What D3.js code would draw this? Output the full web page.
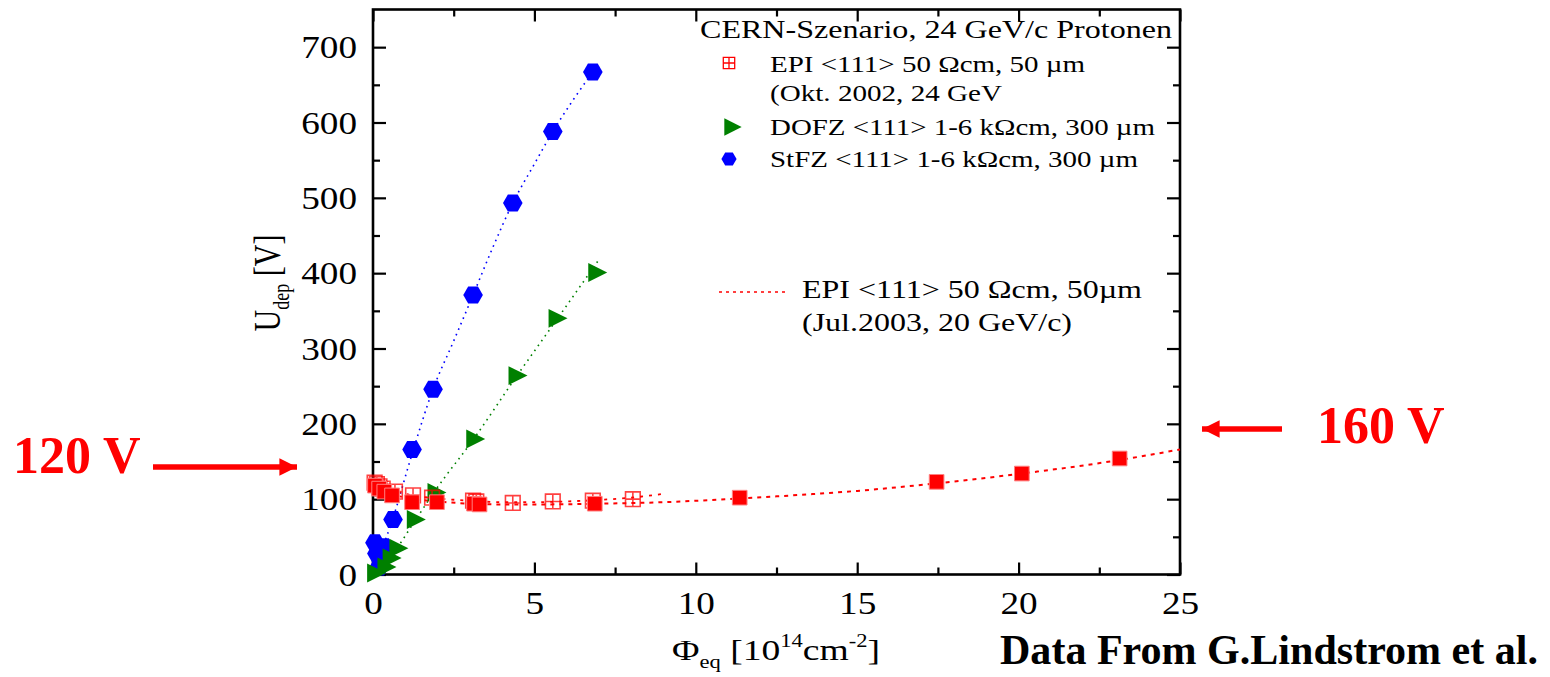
<!DOCTYPE html>
<html>
<head>
<meta charset="utf-8">
<script src="https://cdn.jsdelivr.net/npm/d3@7"></script>
<style>
  html, body { margin: 0; padding: 0; background: #fff; }
  svg { display: block; }
  text { font-family: "Liberation Serif", "Times New Roman", serif; fill: #000; }
</style>
</head>
<body>
<svg id="chart" width="1550" height="677"></svg>
<script>
// ---- axis ticks ----
const xTicks = [0, 5, 10, 15, 20, 25];
const xMinorTicks = [2.5, 7.5, 12.5, 17.5, 22.5];
const yTicks = [0, 100, 200, 300, 400, 500, 600, 700];
const yMinorTicks = [50, 150, 250, 350, 450, 550, 650];

// ---- StFZ <111>, 24 GeV/c protons (fluence 1e14 cm^-2, U_dep V) ----
const stfzFluence = [0.06, 0.12, 0.19, 0.34, 0.62, 1.21, 1.86, 3.10, 4.33, 5.57, 6.81];
const stfzVoltage = [42, 28, 10, 37, 73, 166, 246, 371, 493, 588, 667];
const stfzFitFluence = [0, 0.3, 0.62, 1.21, 1.86, 2.5, 3.1, 3.7, 4.33, 5.0, 5.57, 6.2, 6.81];
const stfzFitVoltage = [2, 36, 75, 160, 246, 310, 371, 433, 493, 545, 588, 630, 667];

// ---- DOFZ <111> ----
const dofzFluence = [0.05, 0.37, 0.53, 0.74, 1.28, 1.92, 3.12, 4.43, 5.67, 6.90];
const dofzVoltage = [2, 10, 22, 35, 73, 109, 180, 264, 340, 401];
const dofzFitFluence = [0, 0.74, 1.28, 1.92, 3.12, 4.43, 5.67, 7.0];
const dofzFitVoltage = [0, 35, 70, 111, 180, 262, 337, 418];

// ---- EPI <111> 50 Ohm cm, Oct. 2002, 24 GeV ----
const epi02Fluence = [0.05, 0.12, 0.2, 0.3, 0.68, 1.24, 1.83, 3.1, 3.2, 4.33, 5.57, 6.81, 8.05];
const epi02Voltage = [122, 120, 117, 114, 110, 105, 102, 98, 97, 95, 97, 98, 100];
const epi02FitFluence = [0, 0.5, 1, 2, 3, 4, 5, 6, 7, 8, 9];
const epi02FitVoltage = [123, 113, 107, 101, 98, 96, 96, 97, 99, 102, 107];

// ---- EPI <111> 50 Ohm cm, Jul. 2003, 20 GeV/c ----
const epi03Fluence = [0.06, 0.19, 0.35, 0.59, 1.21, 1.98, 3.13, 3.3, 6.87, 11.36, 17.46, 20.1, 23.13];
const epi03Voltage = [118, 114, 110, 105, 96, 96, 94, 93, 94, 102, 123, 134, 154];
const epi03FitFluence = [0, 0.5, 1, 2, 3, 4, 5, 7, 9, 11.36, 13, 15, 17.46, 20.1, 23.13, 25];
const epi03FitVoltage = [118, 108, 102, 97, 94, 93, 93, 94, 96, 101, 105, 111, 121, 134, 152, 166];

const zip = (xs, ys) => xs.map((x, i) => [x, ys[i]]);

const svg = d3.select("#chart");
const x = d3.scaleLinear().domain([0, 25]).range([373, 1180]);
const y = d3.scaleLinear().domain([0, 750]).range([574.5, 9.5]);

const RED = "#ff0000", GREEN = "#008000", BLUE = "#0000ff";

// horizontally widen a text element by factor k
function widen(sel, k) {
  sel.each(function () {
    const len = this.getComputedTextLength();
    d3.select(this).attr("textLength", len * k).attr("lengthAdjust", "spacingAndGlyphs");
  });
}
function fitTo(sel, w) {
  sel.attr("textLength", w).attr("lengthAdjust", "spacingAndGlyphs");
}

// ---- custom marker shapes ----
const hexagon = {
  draw(ctx, size) {
    const r = Math.sqrt(size / (1.5 * Math.sqrt(3)));
    for (let i = 0; i < 6; i++) {
      const a = Math.PI / 3 * i;
      const px = r * Math.cos(a), py = r * Math.sin(a);
      i === 0 ? ctx.moveTo(px, py) : ctx.lineTo(px, py);
    }
    ctx.closePath();
  }
};
const triRight = {
  draw(ctx, size) {
    const h = Math.sqrt(size * 2); // side length
    ctx.moveTo(-h / 2, -h / 2);
    ctx.lineTo(h / 2, 0);
    ctx.lineTo(-h / 2, h / 2);
    ctx.closePath();
  }
};
const squareCross = {
  draw(ctx, size) {
    const s = Math.sqrt(size) / 2;
    ctx.moveTo(-s, -s); ctx.lineTo(s, -s); ctx.lineTo(s, s); ctx.lineTo(-s, s); ctx.closePath();
    ctx.moveTo(0, -s); ctx.lineTo(0, s);
    ctx.moveTo(-s, 0); ctx.lineTo(s, 0);
  }
};

// ---- axes ----
const gx = svg.append("g").attr("transform", `translate(0,${y(0)})`)
  .call(d3.axisBottom(x).tickValues(xTicks).tickSizeInner(-12).tickSizeOuter(0).tickPadding(17).tickFormat(d3.format("d")));
svg.append("g").attr("transform", `translate(0,${y(0)})`)
  .call(d3.axisBottom(x).tickValues(xMinorTicks).tickSizeInner(-7).tickSizeOuter(0).tickFormat(""));
svg.append("g").attr("transform", `translate(0,${y(750)})`)
  .call(d3.axisTop(x).tickValues(xTicks).tickSizeInner(-12).tickSizeOuter(0).tickFormat(""));
svg.append("g").attr("transform", `translate(0,${y(750)})`)
  .call(d3.axisTop(x).tickValues(xMinorTicks).tickSizeInner(-7).tickSizeOuter(0).tickFormat(""));
const gy = svg.append("g").attr("transform", `translate(${x(0)},0)`)
  .call(d3.axisLeft(y).tickValues(yTicks).tickSizeInner(-13).tickSizeOuter(0).tickPadding(16).tickFormat(d3.format("d")));
svg.append("g").attr("transform", `translate(${x(0)},0)`)
  .call(d3.axisLeft(y).tickValues(yMinorTicks).tickSizeInner(-7).tickSizeOuter(0).tickFormat(""));
svg.append("g").attr("transform", `translate(${x(25)},0)`)
  .call(d3.axisRight(y).tickValues(yTicks).tickSizeInner(-13).tickSizeOuter(0).tickFormat(""));
svg.append("g").attr("transform", `translate(${x(25)},0)`)
  .call(d3.axisRight(y).tickValues(yMinorTicks).tickSizeInner(-7).tickSizeOuter(0).tickFormat(""));

svg.selectAll(".domain").remove();
svg.selectAll(".tick line").attr("stroke", "#000").attr("stroke-width", 2.2);
svg.selectAll(".tick text").attr("font-family", "Liberation Serif, serif").attr("font-size", 31).attr("fill", "#000");
widen(gx.selectAll(".tick text"), 1.2);
widen(gy.selectAll(".tick text"), 1.2);
gy.selectAll(".tick text").attr("dy", "0.34em");

// frame
svg.append("rect")
  .attr("x", x(0)).attr("y", y(750))
  .attr("width", x(25) - x(0)).attr("height", y(0) - y(750))
  .attr("fill", "none").attr("stroke", "#000").attr("stroke-width", 2.6);

// ---- fit curves ----
const curve = d3.line().x(d => x(d[0])).y(d => y(d[1])).curve(d3.curveMonotoneX);
const plot = svg.append("g");

plot.append("path").datum(zip(stfzFitFluence, stfzFitVoltage)).attr("d", curve)
  .attr("fill", "none").attr("stroke", BLUE).attr("stroke-width", 1.6).attr("stroke-dasharray", "1.6 4.4");
plot.append("path").datum(zip(dofzFitFluence, dofzFitVoltage)).attr("d", curve)
  .attr("fill", "none").attr("stroke", GREEN).attr("stroke-width", 1.6).attr("stroke-dasharray", "1.6 4.4");
plot.append("path").datum(zip(epi02FitFluence, epi02FitVoltage)).attr("d", curve)
  .attr("fill", "none").attr("stroke", RED).attr("stroke-width", 1.8).attr("stroke-dasharray", "3 6");
plot.append("path").datum(zip(epi03FitFluence, epi03FitVoltage)).attr("d", curve)
  .attr("fill", "none").attr("stroke", RED).attr("stroke-width", 2).attr("stroke-dasharray", "4 5");

// ---- markers ----
plot.append("g").selectAll("path").data(zip(stfzFluence, stfzVoltage)).join("path")
  .attr("transform", d => `translate(${x(d[0])},${y(d[1])})`)
  .attr("d", d3.symbol().type(hexagon).size(250))
  .attr("fill", BLUE);
plot.append("g").selectAll("path").data(zip(dofzFluence, dofzVoltage)).join("path")
  .attr("transform", d => `translate(${x(d[0]) + 2},${y(d[1])})`)
  .attr("d", d3.symbol().type(triRight).size(180))
  .attr("fill", GREEN);
plot.append("g").selectAll("path").data(zip(epi02Fluence, epi02Voltage)).join("path")
  .attr("transform", d => `translate(${x(d[0])},${y(d[1])})`)
  .attr("d", d3.symbol().type(squareCross).size(215))
  .attr("fill", "none").attr("stroke", RED).attr("stroke-opacity", 0.75).attr("stroke-width", 1.6);
plot.append("g").selectAll("path").data(zip(epi03Fluence, epi03Voltage)).join("path")
  .attr("transform", d => `translate(${x(d[0])},${y(d[1])})`)
  .attr("d", d3.symbol().type(d3.symbolSquare).size(215))
  .attr("fill", RED).attr("stroke", "#ff8080").attr("stroke-width", 1);

// ---- axis titles ----
const yTitle = svg.append("text")
  .attr("transform", "translate(280,283) scale(1.25,1) rotate(-90)")
  .attr("text-anchor", "middle").attr("font-size", 30);
yTitle.append("tspan").text("U");
yTitle.append("tspan").attr("font-size", 18).attr("dy", 7).text("dep");
yTitle.append("tspan").attr("dy", -7).text(" [V]");

const xTitle = svg.append("text").attr("x", 672).attr("y", 660).attr("font-size", 30);
xTitle.append("tspan").text("Φ");
xTitle.append("tspan").attr("font-size", 18).attr("dy", 8).text("eq");
xTitle.append("tspan").attr("dy", -8).text(" [10");
xTitle.append("tspan").attr("font-size", 18).attr("dy", -13).text("14");
xTitle.append("tspan").attr("dy", 13).text("cm");
xTitle.append("tspan").attr("font-size", 18).attr("dy", -13).text("-2");
xTitle.append("tspan").attr("dy", 13).text("]");
fitTo(xTitle, 208);

// ---- legend ----
const legend = svg.append("g");
fitTo(legend.append("text").attr("x", 700).attr("y", 38).attr("font-size", 25)
  .text("CERN-Szenario, 24 GeV/c Protonen"), 472);

legend.append("path").attr("transform", "translate(729,63)")
  .attr("d", d3.symbol().type(squareCross).size(130))
  .attr("fill", "none").attr("stroke", RED).attr("stroke-width", 1.3);
fitTo(legend.append("text").attr("x", 770).attr("y", 72).attr("font-size", 23)
  .text("EPI <111> 50 Ωcm, 50 µm"), 315);
fitTo(legend.append("text").attr("x", 770).attr("y", 101).attr("font-size", 23)
  .text("(Okt. 2002, 24 GeV"), 232);

legend.append("path").attr("transform", "translate(733,127)")
  .attr("d", d3.symbol().type(triRight).size(150)).attr("fill", GREEN);
fitTo(legend.append("text").attr("x", 770).attr("y", 135).attr("font-size", 23)
  .text("DOFZ <111> 1-6 kΩcm, 300 µm"), 385);

legend.append("path").attr("transform", "translate(729,159)")
  .attr("d", d3.symbol().type(hexagon).size(150)).attr("fill", BLUE);
fitTo(legend.append("text").attr("x", 770).attr("y", 167).attr("font-size", 23)
  .text("StFZ <111> 1-6 kΩcm, 300 µm"), 368);

legend.append("line").attr("x1", 719).attr("x2", 787).attr("y1", 292).attr("y2", 292)
  .attr("stroke", RED).attr("stroke-width", 1.6).attr("stroke-dasharray", "3 4");
fitTo(legend.append("text").attr("x", 802).attr("y", 298).attr("font-size", 25)
  .text("EPI <111> 50 Ωcm, 50µm"), 340);
fitTo(legend.append("text").attr("x", 802).attr("y", 331).attr("font-size", 25)
  .text("(Jul.2003, 20 GeV/c)"), 270);

// ---- annotations ----
svg.append("defs").append("marker")
  .attr("id", "head").attr("viewBox", "0 0 10 10").attr("refX", 10).attr("refY", 5)
  .attr("markerWidth", 3.2).attr("markerHeight", 3.2).attr("markerUnits", "strokeWidth")
  .attr("orient", "auto")
  .append("path").attr("d", "M0,0 L10,5 L0,10 Z").attr("fill", RED);

svg.append("text").attr("x", 13).attr("y", 473).attr("font-size", 52).attr("font-weight", "bold")
  .style("fill", RED).text("120 V");
svg.append("line").attr("x1", 153).attr("y1", 467).attr("x2", 297).attr("y2", 467)
  .attr("stroke", RED).attr("stroke-width", 5.5).attr("marker-end", "url(#head)");

svg.append("text").attr("x", 1317).attr("y", 443).attr("font-size", 52).attr("font-weight", "bold")
  .style("fill", RED).text("160 V");
svg.append("line").attr("x1", 1282).attr("y1", 429).attr("x2", 1202).attr("y2", 429)
  .attr("stroke", RED).attr("stroke-width", 5.5).attr("marker-end", "url(#head)");

fitTo(svg.append("text").attr("x", 1000).attr("y", 664).attr("font-size", 42).attr("font-weight", "bold")
  .text("Data From G.Lindstrom et al."), 538);
</script>
</body>
</html>
